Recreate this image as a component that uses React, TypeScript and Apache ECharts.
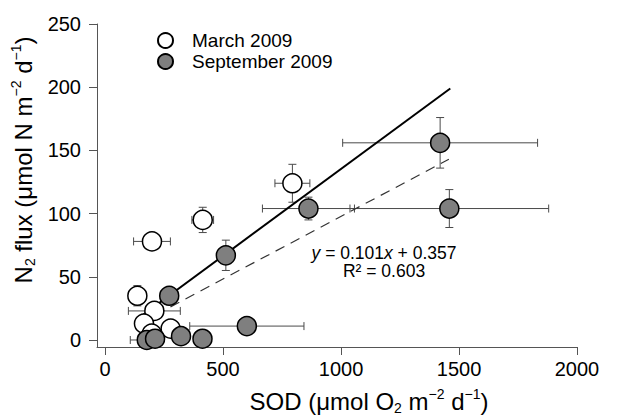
import React, { useEffect, useRef } from "react";
import * as echarts from "echarts";

// ---- data ----
const marchX = [199, 414, 794, 137, 209, 165, 278, 198];
const marchY = [78, 95, 124, 35, 23, 13, 9, 5];
const marchXErr = [78, 46, 74, 22, 110, 0, 0, 0];
const marchYErr = [6, 10, 15, 8, 0, 0, 0, 0];

const sepX = [272, 512, 601, 177, 212, 322, 413, 862, 1420, 1459];
const sepY = [35, 67, 11, 0, 1, 3, 1, 104, 156, 104];
const sepXErr = [0, 0, 242, 70, 0, 0, 0, 195, 413, 421];
const sepYErr = [0, 12, 0, 0, 0, 0, 0, 9, 20, 15];

const fitSolidX = [140, 1463];
const fitSolidY = [17, 199];
const fitDashX = [150, 1457];
const fitDashY = [13.6, 143];

const xTicks = [0, 500, 1000, 1500, 2000];
const yTicks = [0, 50, 100, 150, 200, 250];

const seriesNames = ["March 2009", "September 2009"];

const FONT = '"Liberation Sans", Arial, Helvetica, sans-serif';

function zip4(a: number[], b: number[], c: number[], d: number[]) {
  return a.map((v, i) => [v, b[i], c[i], d[i]]);
}

function errRender(params: any, api: any) {
  const x = api.value(0);
  const y = api.value(1);
  const xe = api.value(2);
  const ye = api.value(3);
  const c = api.coord([x, y]);
  const st = { stroke: "#4a4a4a", lineWidth: 1 };
  const cap = 4;
  const children: any[] = [];
  if (xe > 0) {
    const l = api.coord([x - xe, y]);
    const r = api.coord([x + xe, y]);
    children.push({ type: "line", shape: { x1: l[0], y1: c[1], x2: r[0], y2: c[1] }, style: st });
    children.push({ type: "line", shape: { x1: l[0], y1: c[1] - cap, x2: l[0], y2: c[1] + cap }, style: st });
    children.push({ type: "line", shape: { x1: r[0], y1: c[1] - cap, x2: r[0], y2: c[1] + cap }, style: st });
  }
  if (ye > 0) {
    const t = api.coord([x, y + ye]);
    const b = api.coord([x, y - ye]);
    children.push({ type: "line", shape: { x1: c[0], y1: t[1], x2: c[0], y2: b[1] }, style: st });
    children.push({ type: "line", shape: { x1: c[0] - cap, y1: t[1], x2: c[0] + cap, y2: t[1] }, style: st });
    children.push({ type: "line", shape: { x1: c[0] - cap, y1: b[1], x2: c[0] + cap, y2: b[1] }, style: st });
  }
  return { type: "group", children };
}

const rich = {
  n: { fontSize: 24, lineHeight: 28, fontFamily: FONT, fill: "#000", verticalAlign: "middle" },
  sup: { fontSize: 14, lineHeight: 18, fontFamily: FONT, fill: "#000", verticalAlign: "top" },
  sub: { fontSize: 14, lineHeight: 14, fontFamily: FONT, fill: "#000", verticalAlign: "bottom" },
};

const eqRich = {
  n: { fontSize: 17.5, lineHeight: 18.5, fontFamily: FONT, fill: "#000" },
  i: { fontSize: 17.5, lineHeight: 18.5, fontFamily: FONT, fill: "#000", fontStyle: "italic" },
};

export default function App() {
  const ref = useRef<HTMLDivElement>(null);
  useEffect(() => {
    if (!ref.current) return;
    const chart = echarts.init(ref.current, null, { renderer: "svg" });
    const option: any = {
      animation: false,
      backgroundColor: "#fff",
      grid: { left: 97, top: 24, right: 48, bottom: 71, containLabel: false },
      legend: {
        data: seriesNames,
        orient: "vertical",
        left: 152,
        top: 25,
        itemWidth: 15,
        itemHeight: 15,
        itemGap: 0,
        icon: "circle",
        selectedMode: false,
        textStyle: { fontSize: 19, color: "#000", fontFamily: FONT, lineHeight: 21, padding: [0, 0, 0, 14] },
      },
      xAxis: {
        type: "value",
        min: -34,
        max: 2000,
        axisLine: { show: true, onZero: false, lineStyle: { color: "#555", width: 1 } },
        axisTick: { show: true, length: 8, customValues: xTicks, lineStyle: { color: "#555" } },
        axisLabel: {
          customValues: xTicks,
          formatter: (v: number) => String(v),
          fontSize: 20,
          color: "#000",
          fontFamily: FONT,
          margin: 12,
        },
        splitLine: { show: false },
      },
      yAxis: {
        type: "value",
        min: -5.54,
        max: 250,
        axisLine: { show: true, onZero: false, lineStyle: { color: "#555", width: 1 } },
        axisTick: { show: true, length: 8, customValues: yTicks, lineStyle: { color: "#555" } },
        axisLabel: {
          customValues: yTicks,
          formatter: (v: number) => String(v),
          fontSize: 20,
          color: "#000",
          fontFamily: FONT,
          margin: 16,
        },
        splitLine: { show: false },
      },
      graphic: [
        {
          type: "text",
          x: 369,
          y: 401,
          style: {
            text: "{n|SOD (μmol O}{sub|2}{n| m}{sup|−2}{n| d}{sup|−1}{n|)}",
            rich,
            align: "center",
            verticalAlign: "middle",
          },
        },
        {
          type: "text",
          x: 23,
          y: 160,
          rotation: Math.PI / 2,
          style: {
            text: "{n|N}{sub|2}{n| flux (μmol N m}{sup|−2}{n| d}{sup|−1}{n|)}",
            rich,
            align: "center",
            verticalAlign: "middle",
          },
        },
        {
          type: "text",
          x: 384,
          y: 262,
          style: {
            text: "{i|y}{n| = 0.101}{i|x}{n| + 0.357}\n{n|R² = 0.603}",
            rich: eqRich,
            align: "center",
            verticalAlign: "middle",
          },
        },
      ],
      series: [
        {
          type: "custom",
          name: "errM",
          renderItem: errRender,
          data: zip4(marchX, marchY, marchXErr, marchYErr),
          encode: { x: 0, y: 1 },
          z: 1,
          silent: true,
        },
        {
          type: "custom",
          name: "errS",
          renderItem: errRender,
          data: zip4(sepX, sepY, sepXErr, sepYErr),
          encode: { x: 0, y: 1 },
          z: 1,
          silent: true,
        },
        {
          type: "line",
          name: "fitSolid",
          data: fitSolidX.map((v, i) => [v, fitSolidY[i]]),
          showSymbol: false,
          symbol: "none",
          lineStyle: { color: "#000", width: 2 },
          z: 2,
        },
        {
          type: "line",
          name: "fitDash",
          data: fitDashX.map((v, i) => [v, fitDashY[i]]),
          showSymbol: false,
          symbol: "none",
          lineStyle: { color: "#333", width: 1.2, type: [10, 7] },
          z: 2,
        },
        {
          type: "scatter",
          name: seriesNames[0],
          data: marchX.map((v, i) => [v, marchY[i]]),
          symbol: "circle",
          symbolSize: 19,
          itemStyle: { color: "#fff", borderColor: "#000", borderWidth: 1.5, opacity: 1 },
          z: 3,
        },
        {
          type: "scatter",
          name: seriesNames[1],
          data: sepX.map((v, i) => [v, sepY[i]]),
          symbol: "circle",
          symbolSize: 19,
          itemStyle: { color: "#7f7f7f", borderColor: "#000", borderWidth: 1.5, opacity: 1 },
          z: 3,
        },
      ],
    };
    chart.setOption(option);
    return () => chart.dispose();
  }, []);
  return (
    <div
      ref={ref}
      style={{ position: "fixed", left: 0, top: 0, width: 625, height: 418, background: "#fff" }}
    />
  );
}
